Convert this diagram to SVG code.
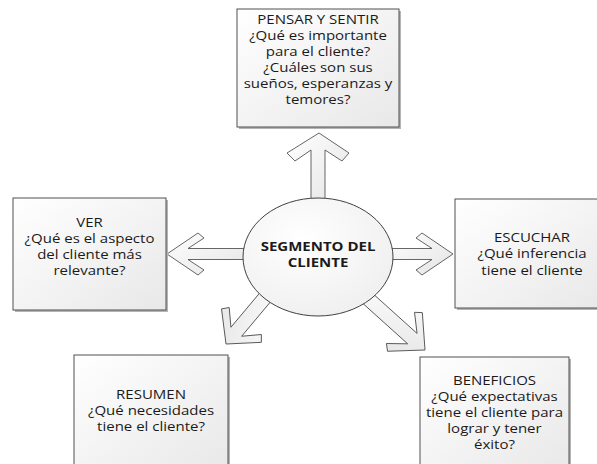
<svg xmlns="http://www.w3.org/2000/svg" width="597" height="464" viewBox="0 0 597 464">
<defs>
<linearGradient id="boxg" x1="0" y1="0" x2="1" y2="1">
<stop offset="0" stop-color="#ffffff"/>
<stop offset="1" stop-color="#e8e8e8"/>
</linearGradient>
<linearGradient id="arrg" x1="0" y1="0" x2="1" y2="1">
<stop offset="0" stop-color="#ffffff"/>
<stop offset="1" stop-color="#e4e4e4"/>
</linearGradient>
<radialGradient id="ellg" cx="0.4" cy="0.35" r="0.75">
<stop offset="0" stop-color="#ffffff"/>
<stop offset="1" stop-color="#eeeeee"/>
</radialGradient>
</defs>
<style>
.box{fill:url(#boxg);stroke:#505050;stroke-width:1}
.shadow{fill:#b4b4b4}
.arrow{fill:url(#arrg);stroke:#555555;stroke-width:0.9;stroke-linejoin:miter}
.txt{font-family:"Open Sans","DejaVu Sans",sans-serif;font-size:12px;fill:#1a1a1a;text-anchor:middle}
.bold{font-weight:bold}
</style>
<rect width="597" height="464" fill="#ffffff"/>

<g id="connectors">
<polygon class="arrow" points="319,133 349,153 342,161 325,150 325,205 311,205 311,150 295,161 287,153"/>
<polygon class="arrow" points="167,254 198,233 204,238 188,248.5 250,248.5 250,259.5 188,259.5 204,270 198,275"/>
<polygon class="arrow" points="453,254 422,233 416,238 432,248.5 386,248.5 386,259.5 432,259.5 416,270 422,275"/>
<polygon class="arrow" transform="translate(226,344) rotate(130)" points="0,0 -24,-26 -30,-21 -16,-7 -78,-7 -78,7 -16,7 -30,21 -24,26"/>
<polygon class="arrow" transform="translate(425,350) rotate(42)" points="0,0 -27,-26 -33,-21 -17,-7 -88,-7 -88,7 -17,7 -33,21 -27,26"/>
</g>

<g id="segmento">
<ellipse cx="318" cy="257" rx="75" ry="59" fill="url(#ellg)" stroke="#404040" stroke-width="1"/>
<text class="txt bold" transform="translate(318,0) scale(1.25,1)"><tspan x="0" y="251.5">SEGMENTO DEL</tspan><tspan x="0" y="267.5">CLIENTE</tspan></text>
</g>

<g id="pensar">
<rect class="shadow" x="239" y="11" width="162" height="118"/>
<rect class="box" x="237" y="9" width="162" height="118"/>
<text class="txt" transform="translate(318,0) scale(1.25,1)"><tspan x="0" y="24.5">PENSAR Y SENTIR</tspan><tspan x="0" y="40.5">¿Qué es importante</tspan><tspan x="0" y="56.5">para el cliente?</tspan><tspan x="0" y="72.5">¿Cuáles son sus</tspan><tspan x="0" y="88.5">sueños, esperanzas y</tspan><tspan x="0" y="104.5">temores?</tspan></text>
</g>

<g id="ver">
<rect class="shadow" x="15" y="200" width="153" height="112"/>
<rect class="box" x="13" y="198" width="153" height="112"/>
<text class="txt" transform="translate(89.5,0) scale(1.25,1)"><tspan x="0" y="227">VER</tspan><tspan x="0" y="243">¿Qué es el aspecto</tspan><tspan x="0" y="259">del cliente más</tspan><tspan x="0" y="275">relevante?</tspan></text>
</g>

<g id="escuchar">
<rect class="shadow" x="457" y="201" width="154" height="109"/>
<rect class="box" x="455" y="199" width="154" height="109"/>
<text class="txt" transform="translate(532,0) scale(1.25,1)"><tspan x="0" y="242">ESCUCHAR</tspan><tspan x="0" y="258.5">¿Qué inferencia</tspan><tspan x="0" y="275">tiene el cliente</tspan></text>
</g>

<g id="resumen">
<rect class="shadow" x="76" y="357" width="154" height="115"/>
<rect class="box" x="74" y="355" width="154" height="115"/>
<text class="txt" transform="translate(151,0) scale(1.25,1)"><tspan x="0" y="399">RESUMEN</tspan><tspan x="0" y="415">¿Qué necesidades</tspan><tspan x="0" y="431">tiene el cliente?</tspan></text>
</g>

<g id="beneficios">
<rect class="shadow" x="422" y="359" width="149" height="115"/>
<rect class="box" x="420" y="357" width="149" height="115"/>
<text class="txt" transform="translate(494.5,0) scale(1.25,1)"><tspan x="0" y="385">BENEFICIOS</tspan><tspan x="0" y="401">¿Qué expectativas</tspan><tspan x="0" y="417">tiene el cliente para</tspan><tspan x="0" y="433">lograr y tener</tspan><tspan x="0" y="449">éxito?</tspan></text>
</g>
</svg>
